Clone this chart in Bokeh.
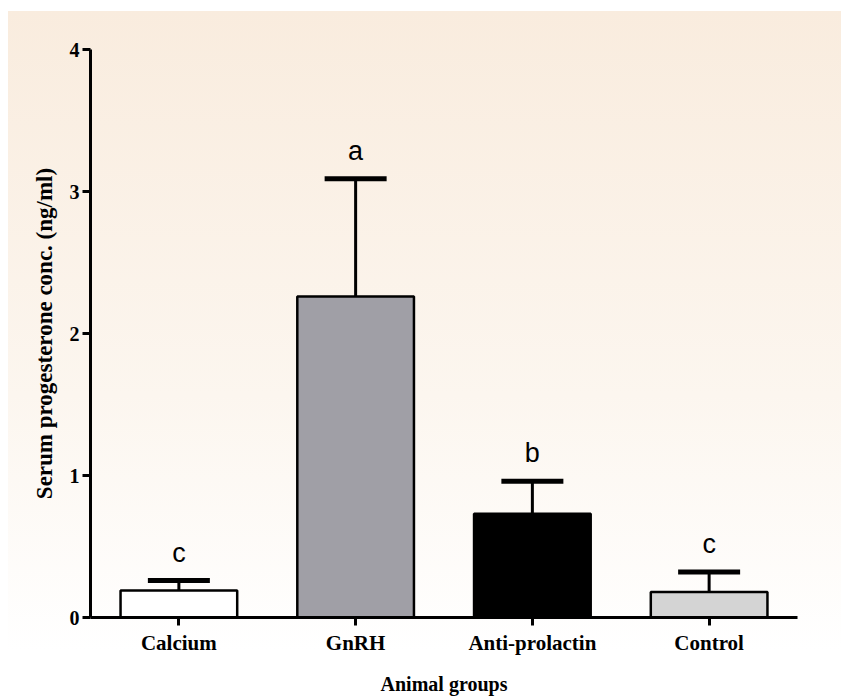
from bokeh.plotting import figure
from bokeh.models import (FixedTicker, Range1d, ColumnDataSource,
                          Whisker, TeeHead, InlineStyleSheet)
from bokeh.core.properties import value
from bokeh.embed import file_html
from bokeh.resources import INLINE

# ---- data ----
groups = ["Calcium", "GnRH", "Anti-prolactin", "Control"]
means = [0.19, 2.26, 0.73, 0.18]
upper_err = [0.26, 3.09, 0.96, 0.32]
letters = ["c", "a", "b", "c"]
bar_colors = ["#FFFFFF", "#A09FA6", "#000000", "#D4D4D4"]
y_ticks = [0, 1, 2, 3, 4]

xpos = [i + 0.5 for i in range(len(groups))]
src = ColumnDataSource(dict(x=xpos, mean=means, upper=upper_err,
                            letter=letters, color=bar_colors))

bg_css = InlineStyleSheet(css="""
:host {
  background-color: #ffffff;
  background-image: linear-gradient(to bottom, #F9ECDE 0%, #FCF6EF 60%, #FFFFFF 100%);
  background-repeat: no-repeat;
  background-position: 8px 11px;
  background-size: calc(100% - 8px) 640px;
}
""")

p = figure(output_backend="svg", toolbar_location=None,
           frame_width=707, frame_height=568,
           x_range=Range1d(0, 4), y_range=Range1d(0, 4),
           min_border_left=90, min_border_right=44,
           min_border_top=49, min_border_bottom=74,
           stylesheets=[bg_css])
p.border_fill_color = None
p.background_fill_color = None
p.outline_line_color = None
p.grid.visible = False

# ---- bars ----
p.vbar(x="x", top="mean", bottom=0, width=0.66, source=src,
       fill_color="color", line_color="black", line_width=2.5)

# ---- error bars ----
w = Whisker(base="x", lower="mean", upper="upper", source=src,
            line_width=3, line_color="black",
            upper_head=TeeHead(size=62, line_width=5, line_color="black"),
            lower_head=None, level="annotation")
p.add_layout(w)

# ---- significance letters ----
p.text(x="x", y="upper", text="letter", source=src, y_offset=-13,
       text_align="center", text_baseline="bottom",
       text_font=value("Liberation Sans"), text_font_size="27px",
       text_color="black")

# ---- axes ----
serif = "Liberation Serif"
p.xaxis.ticker = FixedTicker(ticks=xpos)
p.xaxis.major_label_overrides = {xv: g for xv, g in zip(xpos, groups)}
p.yaxis.ticker = FixedTicker(ticks=y_ticks)
for ax in (p.xaxis[0], p.yaxis[0]):
    ax.axis_line_width = 3
    ax.axis_line_color = "black"
    ax.major_tick_line_width = 3
    ax.major_tick_line_color = "black"
    ax.major_tick_out = 8
    ax.major_tick_in = 0
    ax.minor_tick_line_color = None
    ax.major_label_text_font = serif
    ax.major_label_text_font_style = "bold"
    ax.major_label_text_color = "black"
    ax.axis_label_text_font = serif
    ax.axis_label_text_font_style = "bold"
    ax.axis_label_text_color = "black"

p.xaxis.major_label_text_font_size = "21px"
p.xaxis.major_label_standoff = 5
p.xaxis.axis_label = "Animal groups"
p.xaxis.axis_label_text_font_size = "20px"
p.xaxis.axis_label_standoff = 15

p.yaxis.major_label_text_font_size = "20px"
p.yaxis.major_label_standoff = 3
p.yaxis.axis_label = "Serum progesterone conc. (ng/ml)"
p.yaxis.axis_label_text_font_size = "23px"
p.yaxis.axis_label_standoff = 10

open("out.html", "w").write(file_html(p, INLINE))
